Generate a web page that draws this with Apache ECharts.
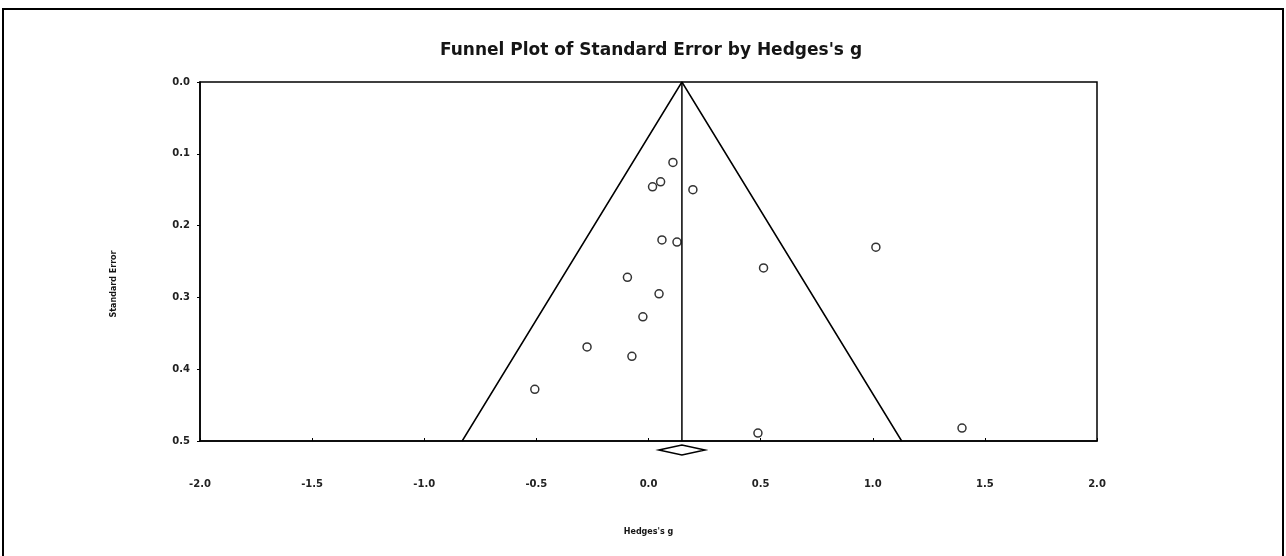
<!DOCTYPE html>
<html>
<head>
<meta charset="utf-8">
<script src="https://cdn.jsdelivr.net/npm/echarts@6/dist/echarts.min.js"></script>
<style>
  html, body { margin: 0; padding: 0; background: #fff; }
  #chart { width: 1286px; height: 556px; }
</style>
</head>
<body>
<div id="chart"></div>
<script>
// Study effect sizes (Hedges's g) and their standard errors
const hedgesG = [0.109, 0.054, 0.018, 0.198, 0.060, 0.127, 1.014, 0.513,
                 -0.094, 0.047, -0.025, -0.274, -0.074, -0.507, 0.488, 1.398];
const standardErrors = [0.112, 0.139, 0.146, 0.150, 0.220, 0.223, 0.230, 0.259,
                        0.272, 0.295, 0.327, 0.369, 0.382, 0.428, 0.489, 0.482];

// Pooled estimate and its confidence interval (diamond below the axis)
const pooledEffect = 0.149;
const pooledLow = 0.046;
const pooledHigh = 0.252;

// Axis ranges
const xTicks = [-2.0, -1.5, -1.0, -0.5, 0.0, 0.5, 1.0, 1.5, 2.0];
const seTicks = [0.0, 0.1, 0.2, 0.3, 0.4, 0.5];
const seMax = 0.5;
const zCrit = 1.96;

const studyPoints = hedgesG.map((g, i) => [g, standardErrors[i]]);
const funnelPoints = [
  [pooledEffect - zCrit * seMax, seMax],
  [pooledEffect, 0],
  [pooledEffect + zCrit * seMax, seMax]
];
const meanLine = [[pooledEffect, 0], [pooledEffect, seMax]];

const labelFont = 'DejaVu Sans';
const chart = echarts.init(document.getElementById('chart'));

chart.setOption({
  animation: false,
  backgroundColor: '#fff',
  title: {
    text: "Funnel Plot of Standard Error by Hedges's g",
    left: 646,
    top: 37,
    textAlign: 'center',
    textStyle: { fontFamily: labelFont, fontWeight: 'bold', fontSize: 17, color: '#151515' }
  },
  graphic: [
    {
      type: 'rect',
      shape: { x: 3, y: 9, width: 1280, height: 560 },
      style: { fill: 'none', stroke: '#000', lineWidth: 2 },
      silent: true
    },
    {
      type: 'text',
      x: 114,
      y: 284,
      rotation: Math.PI / 2,
      style: {
        text: 'Standard Error',
        font: 'bold 8px "DejaVu Sans"',
        fill: '#151515',
        align: 'center',
        verticalAlign: 'middle'
      }
    }
  ],
  grid: {
    left: 200, right: 189, top: 82, bottom: 115,
    show: true, borderColor: '#000', borderWidth: 1.5, backgroundColor: '#fff'
  },
  xAxis: {
    type: 'value',
    position: 'bottom',
    min: xTicks[0],
    max: xTicks[xTicks.length - 1],
    interval: 0.5,
    name: "Hedges's g",
    nameLocation: 'middle',
    nameGap: 87,
    nameTextStyle: { fontFamily: labelFont, fontWeight: 'bold', fontSize: 8, color: '#151515' },
    axisLine: { show: true, onZero: false, lineStyle: { color: '#000', width: 1.5 } },
    axisTick: { show: true, inside: true, length: 3, lineStyle: { color: '#000', width: 1 } },
    axisLabel: {
      margin: 38,
      fontFamily: labelFont, fontWeight: 'bold', fontSize: 10, color: '#222',
      formatter: v => v.toFixed(1)
    },
    splitLine: { show: false }
  },
  yAxis: {
    type: 'value',
    position: 'left',
    inverse: true,
    min: seTicks[0],
    max: seTicks[seTicks.length - 1],
    interval: 0.1,
    axisLine: { show: true, onZero: false, lineStyle: { color: '#000', width: 1.5 } },
    axisTick: { show: true, inside: false, length: 3, lineStyle: { color: '#000', width: 1 } },
    axisLabel: {
      margin: 10,
      fontFamily: labelFont, fontWeight: 'bold', fontSize: 10, color: '#222',
      formatter: v => v.toFixed(1)
    },
    splitLine: { show: false }
  },
  series: [
    {
      name: 'Funnel',
      type: 'line',
      data: funnelPoints,
      symbol: 'none',
      lineStyle: { color: '#000', width: 1.5 },
      z: 2
    },
    {
      name: 'Mean',
      type: 'line',
      data: meanLine,
      symbol: 'none',
      lineStyle: { color: '#000', width: 1.5 },
      z: 2
    },
    {
      name: 'Studies',
      type: 'scatter',
      data: studyPoints,
      symbol: 'circle',
      symbolSize: 8,
      itemStyle: { color: '#fff', borderColor: '#000', borderWidth: 1.5 },
      z: 3
    },
    {
      name: 'Pooled',
      type: 'custom',
      clip: false,
      data: [[pooledLow, pooledEffect, pooledHigh]],
      renderItem: function (params, api) {
        const left = api.coord([api.value(0), seMax]);
        const mid = api.coord([api.value(1), seMax]);
        const right = api.coord([api.value(2), seMax]);
        const cy = left[1] + 9;
        return {
          type: 'polygon',
          shape: {
            points: [
              [left[0], cy],
              [mid[0], cy - 5],
              [right[0], cy],
              [mid[0], cy + 5]
            ]
          },
          style: { fill: '#fff', stroke: '#000', lineWidth: 1.5 }
        };
      },
      z: 3
    }
  ]
});
</script>
</body>
</html>
